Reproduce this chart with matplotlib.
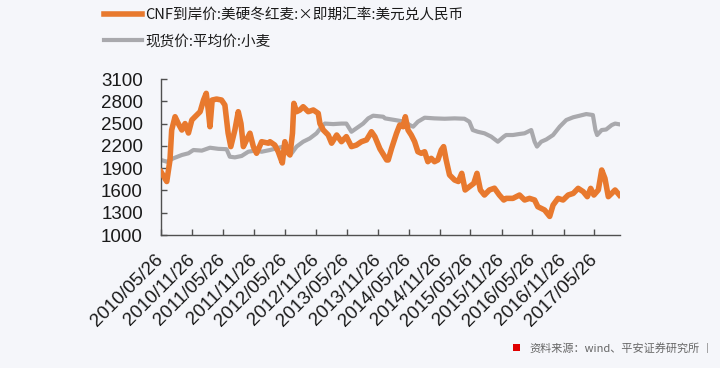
import numpy as np
import pandas as pd
import matplotlib
matplotlib.use("Agg")
import matplotlib.pyplot as plt
from matplotlib.patches import Rectangle

# CNF到岸价 (orange)
cnf_dates = ["2010-05-26", "2010-06-29", "2010-07-18", "2010-07-28", "2010-08-17", "2010-09-05",
             "2010-09-26", "2010-10-15", "2010-11-04", "2010-11-24", "2010-12-13", "2011-01-12",
             "2011-02-01", "2011-02-17", "2011-03-01", "2011-03-11", "2011-03-24", "2011-04-19",
             "2011-05-18", "2011-06-07", "2011-06-26", "2011-07-12", "2011-08-05", "2011-08-25",
             "2011-09-10", "2011-09-24", "2011-10-13", "2011-11-02", "2011-11-22", "2011-12-11",
             "2012-01-10", "2012-02-19", "2012-02-28", "2012-03-28", "2012-04-17", "2012-05-11",
             "2012-05-26", "2012-06-08", "2012-06-25", "2012-07-10", "2012-07-18", "2012-08-03",
             "2012-08-23", "2012-09-11", "2012-10-11", "2012-11-10", "2012-12-09", "2012-12-19",
             "2013-01-08", "2013-02-06", "2013-02-26", "2013-03-28", "2013-04-25", "2013-05-24",
             "2013-06-23", "2013-07-22", "2013-08-21", "2013-09-20", "2013-10-19", "2013-11-08",
             "2013-12-08", "2014-01-17", "2014-01-26", "2014-02-15", "2014-03-16", "2014-04-04",
             "2014-04-24", "2014-05-07", "2014-05-23", "2014-06-11", "2014-07-01", "2014-07-20",
             "2014-08-09", "2014-08-29", "2014-09-17", "2014-10-07", "2014-10-26", "2014-11-15",
             "2014-12-05", "2014-12-19", "2015-01-03", "2015-01-23", "2015-02-22", "2015-03-16",
             "2015-04-05", "2015-04-25", "2015-05-20", "2015-06-15", "2015-07-04", "2015-07-24",
             "2015-08-17", "2015-09-15", "2015-10-15", "2015-11-13", "2015-12-09", "2015-12-23",
             "2016-02-01", "2016-03-11", "2016-04-10", "2016-05-09", "2016-06-08", "2016-06-27",
             "2016-08-06", "2016-09-05", "2016-09-25", "2016-10-24", "2016-11-23", "2016-12-23",
             "2017-01-22", "2017-02-20", "2017-03-22", "2017-04-15", "2017-05-05", "2017-05-24",
             "2017-06-19", "2017-07-09", "2017-07-28", "2017-08-17", "2017-09-06", "2017-09-26",
             "2017-10-21"]
cnf_vals = [1850, 1720, 2010, 2413, 2592, 2500,
            2413, 2500, 2373, 2548, 2592, 2660,
            2817, 2907, 2683, 2458, 2817, 2830,
            2817, 2750, 2373, 2190, 2413, 2660,
            2500, 2190, 2280, 2370, 2190, 2100,
            2256, 2236, 2256, 2210, 2121, 1970,
            2256, 2121, 2077, 2370, 2772, 2660,
            2683, 2727, 2660, 2683, 2638, 2500,
            2413, 2346, 2236, 2346, 2256, 2324,
            2190, 2210, 2256, 2280, 2390, 2324,
            2160, 2010, 2010, 2167, 2369, 2480,
            2458, 2592, 2413, 2346, 2256, 2121,
            2100, 2121, 1987, 2032, 1987, 2010,
            2144, 2190, 2010, 1808, 1740, 1720,
            1830, 1606, 1650, 1695, 1830, 1606,
            1538, 1606, 1630, 1538, 1471, 1493,
            1493, 1538, 1471, 1493, 1471, 1381,
            1336, 1250, 1403, 1493, 1471, 1538,
            1560, 1628, 1583, 1516, 1628, 1538,
            1606, 1875, 1763, 1516, 1560, 1606,
            1538]

# 现货价 (grey)
spot_dates = ["2010-05-26", "2010-06-29", "2010-08-07", "2010-09-26", "2010-11-04", "2010-12-03",
              "2011-01-22", "2011-03-11", "2011-04-29", "2011-06-17", "2011-07-06", "2011-08-05",
              "2011-09-14", "2011-10-23", "2011-12-01", "2012-01-10", "2012-02-28", "2012-04-07",
              "2012-05-16", "2012-06-15", "2012-07-05", "2012-08-03", "2012-09-11", "2012-10-20",
              "2012-11-29", "2012-12-29", "2013-01-17", "2013-03-07", "2013-04-25", "2013-05-24",
              "2013-06-23", "2013-07-22", "2013-08-31", "2013-09-30", "2013-10-29", "2013-12-28",
              "2014-01-07", "2014-03-06", "2014-05-04", "2014-06-02", "2014-06-22", "2014-07-20",
              "2014-08-29", "2014-10-26", "2014-12-25", "2015-02-22", "2015-04-21", "2015-05-20",
              "2015-06-09", "2015-07-08", "2015-08-17", "2015-09-26", "2015-11-04", "2015-12-09",
              "2015-12-23", "2016-02-01", "2016-03-11", "2016-04-10", "2016-05-19", "2016-06-08",
              "2016-06-22", "2016-07-17", "2016-08-16", "2016-09-25", "2016-11-03", "2016-12-12",
              "2017-01-22", "2017-03-01", "2017-04-09", "2017-05-18", "2017-06-02", "2017-06-12",
              "2017-07-09", "2017-08-04", "2017-09-06", "2017-09-26", "2017-10-21"]
spot_vals = [2010, 1987, 2032, 2077, 2100, 2144,
             2136, 2175, 2160, 2155, 2054, 2045,
             2064, 2121, 2136, 2121, 2144, 2167,
             2190, 2121, 2100, 2190, 2256, 2300,
             2369, 2458, 2500, 2493, 2500, 2500,
             2390, 2436, 2500, 2570, 2606, 2592,
             2570, 2548, 2525, 2480, 2458, 2525,
             2579, 2570, 2565, 2570, 2565, 2525,
             2413, 2390, 2369, 2324, 2256, 2324,
             2346, 2346, 2360, 2369, 2413, 2256,
             2190, 2256, 2286, 2346, 2458, 2548,
             2585, 2606, 2628, 2615, 2413, 2346,
             2413, 2420, 2480, 2500, 2490]

tick_dates = ["2010-05-26", "2010-11-26", "2011-05-26", "2011-11-26", "2012-05-26",
              "2012-11-26", "2013-05-26", "2013-11-26", "2014-05-26", "2014-11-26",
              "2015-05-26", "2015-11-26", "2016-05-26", "2016-11-26", "2017-05-26"]
y_ticks = [1000, 1300, 1600, 1900, 2200, 2500, 2800, 3100]

cnf_label = "CNF到岸价:美硬冬红麦:×即期汇率:美元兑人民币"
spot_label = "现货价:平均价:小麦"
source_text = "资料来源：wind、平安证券研究所"

bg = "#f5f6fa"
plt.rcParams['font.family'] = ['Liberation Sans', 'DejaVu Sans']

fig = plt.figure(figsize=(7.2, 3.68), dpi=100, facecolor=bg)
ax = fig.add_axes([161/720, 1-235/368, (620-161)/720, (235-79)/368])
ax.set_facecolor(bg)

l1, = ax.plot(pd.to_datetime(cnf_dates), cnf_vals, color="#e8792e", lw=4.0,
              solid_joinstyle="round", zorder=3)
l2, = ax.plot(pd.to_datetime(spot_dates), spot_vals, color="#a9a9ad", lw=3.0,
              solid_joinstyle="round", zorder=2)

ax.set_xlim(pd.Timestamp("2010-05-26"), pd.Timestamp("2017-10-25"))
ax.set_ylim(1000, 3100)
ax.set_yticks(y_ticks)
ax.set_yticklabels([str(v) for v in y_ticks])
td = pd.to_datetime(tick_dates)
ax.set_xticks(td)
ax.set_xticklabels([d.strftime("%Y/%m/%d") for d in td])

for s in ["top", "right"]:
    ax.spines[s].set_visible(False)
for s in ["left", "bottom"]:
    ax.spines[s].set_color("#505050")
    ax.spines[s].set_linewidth(1.0)

ax.tick_params(axis="both", direction="in", length=4.5, width=1.0, color="#505050",
               labelsize=13.5, labelcolor="#1a1a1a")
ax.tick_params(axis="y", pad=13)
ax.tick_params(axis="x", pad=16)
for lbl in ax.get_xticklabels():
    lbl.set_rotation(45)
    lbl.set_ha("right")
    lbl.set_va("center")
    lbl.set_rotation_mode("anchor")

leg = fig.legend([l1, l2], [cnf_label, spot_label], loc="upper left",
                 bbox_to_anchor=(104/720, 1-8/368), frameon=False, borderpad=0,
                 borderaxespad=0, handlelength=2.6, handletextpad=0.25, labelspacing=0.85,
                 prop={'family': ['Noto Sans CJK SC', 'DejaVu Sans'], 'size': 10.5})
for t in leg.get_texts():
    t.set_color("#1a1a1a")

fig.patches.append(Rectangle((513/720, 1-351/368), 7/720, 7/368, transform=fig.transFigure,
                             facecolor="#e00000", edgecolor="none"))
fig.text(529/720, 1-348/368, source_text, fontsize=8, color="#666666", va="center",
         family=['Noto Sans CJK SC', 'DejaVu Sans'])
fig.text(706/720, 1-348/368, "|", fontsize=8, color="#999999", va="center")

fig.savefig("out.png", dpi=100, facecolor=bg)
